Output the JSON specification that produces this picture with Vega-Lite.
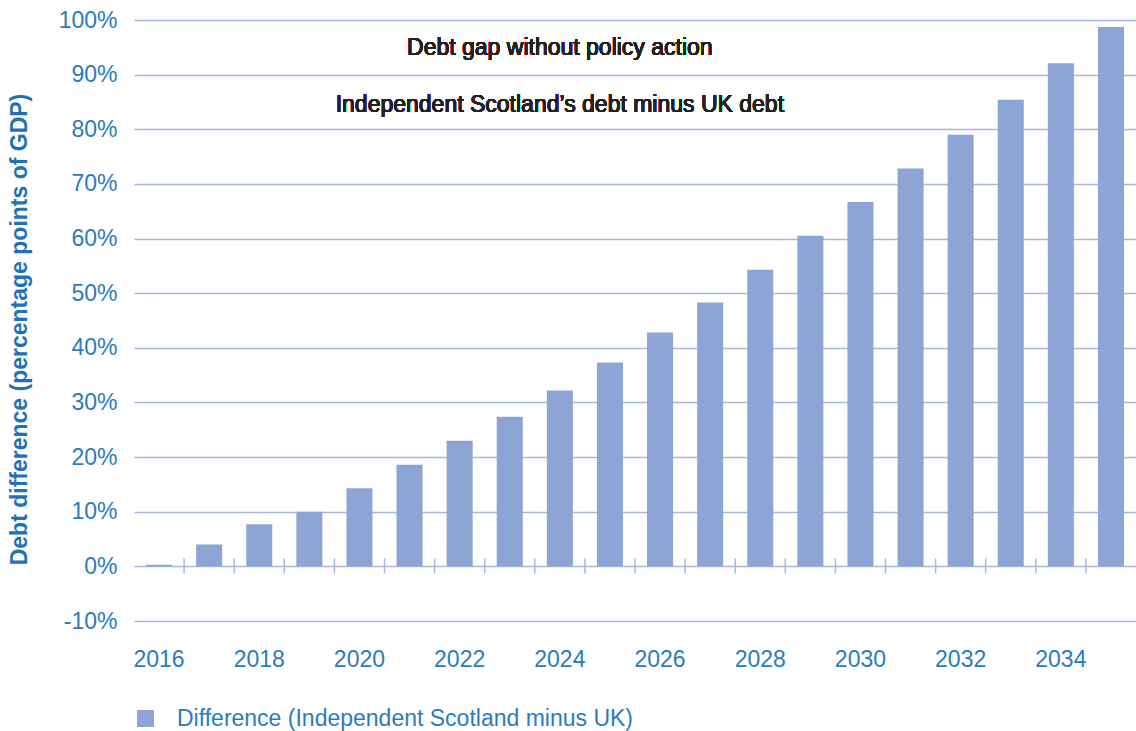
{
  "$schema": "https://vega.github.io/schema/vega-lite/v6.json",
  "width": 1002,
  "height": 601,
  "autosize": {"type": "none"},
  "padding": {"left": 134, "top": 20, "right": 0, "bottom": 110},
  "background": "white",
  "view": {"stroke": null},
  "config": {
    "font": "Liberation Sans",
    "axis": {"labelFont": "Liberation Sans", "titleFont": "Liberation Sans"}
  },
  "data": {
    "values": [
      {"year": 2016, "diff": 0.3},
      {"year": 2017, "diff": 4.0},
      {"year": 2018, "diff": 7.7},
      {"year": 2019, "diff": 10.0},
      {"year": 2020, "diff": 14.3},
      {"year": 2021, "diff": 18.6},
      {"year": 2022, "diff": 23.0},
      {"year": 2023, "diff": 27.4},
      {"year": 2024, "diff": 32.2},
      {"year": 2025, "diff": 37.3},
      {"year": 2026, "diff": 42.8},
      {"year": 2027, "diff": 48.3},
      {"year": 2028, "diff": 54.3},
      {"year": 2029, "diff": 60.5},
      {"year": 2030, "diff": 66.7},
      {"year": 2031, "diff": 72.8},
      {"year": 2032, "diff": 79.0},
      {"year": 2033, "diff": 85.4},
      {"year": 2034, "diff": 92.1},
      {"year": 2035, "diff": 98.7}
    ]
  },
  "layer": [
    {
      "mark": {"type": "bar", "width": {"band": 0.52}},
      "encoding": {
        "x": {
          "field": "year",
          "type": "ordinal",
          "scale": {"paddingInner": 0, "paddingOuter": 0},
          "axis": {
            "title": null,
            "values": [2016, 2018, 2020, 2022, 2024, 2026, 2028, 2030, 2032, 2034],
            "labelAngle": 0,
            "ticks": false,
            "tickSize": 0,
            "domain": false,
            "grid": false,
            "labelPadding": 27,
            "labelFontSize": 23,
            "labelColor": "#2a7bbf"
          }
        },
        "y": {
          "field": "diff",
          "type": "quantitative",
          "scale": {"domain": [-10, 100], "nice": false, "zero": false},
          "axis": {
            "title": "Debt difference (percentage points of GDP)",
            "titleFontSize": 23,
            "titleFontWeight": "bold",
            "titleColor": "#1f72ba",
            "titleX": -115,
            "titleY": 309,
            "titleAngle": -90,
            "titleAlign": "center",
            "titleBaseline": "middle",
            "values": [-10, 0, 10, 20, 30, 40, 50, 60, 70, 80, 90, 100],
            "labelExpr": "datum.value + '%'",
            "labelFontSize": 23,
            "labelColor": "#2a7bbf",
            "labelPadding": 17,
            "ticks": false,
            "tickSize": 0,
            "domain": false,
            "grid": true,
            "gridColor": "#a9b8df",
            "gridWidth": 1.3
          }
        },
        "color": {
          "datum": "Difference (Independent Scotland minus UK)",
          "type": "nominal",
          "scale": {"range": ["#8da5d5"]},
          "legend": {
            "title": null,
            "orient": "none",
            "legendX": 0,
            "legendY": 687,
            "symbolType": "square",
            "symbolSize": 289,
            "symbolStrokeWidth": 0,
            "symbolOpacity": 1,
            "labelFontSize": 23,
            "labelColor": "#2a7bbf",
            "labelOffset": 20,
            "labelLimit": 800
          }
        }
      }
    },
    {
      "transform": [{"filter": "datum.year > 2016"}],
      "mark": {"type": "rule", "color": "#a9b8df", "strokeWidth": 1.5},
      "encoding": {
        "x": {"field": "year", "type": "ordinal", "bandPosition": 0},
        "y": {"datum": -1.3, "type": "quantitative"},
        "y2": {"datum": 1.45}
      }
    },
    {
      "mark": {"type": "text", "fontSize": 23, "color": "#222222", "align": "center", "baseline": "middle"},
      "encoding": {
        "x": {"datum": 2024, "type": "ordinal"},
        "y": {"datum": 94.9, "type": "quantitative"},
        "text": {"value": "Debt gap without policy action"}
      }
    },
    {
      "mark": {"type": "text", "fontSize": 23, "color": "#222222", "align": "center", "baseline": "middle"},
      "encoding": {
        "x": {"datum": 2024, "type": "ordinal"},
        "y": {"datum": 84.5, "type": "quantitative"},
        "text": {"value": "Independent Scotland’s debt minus UK debt"}
      }
    }
  ]
}
